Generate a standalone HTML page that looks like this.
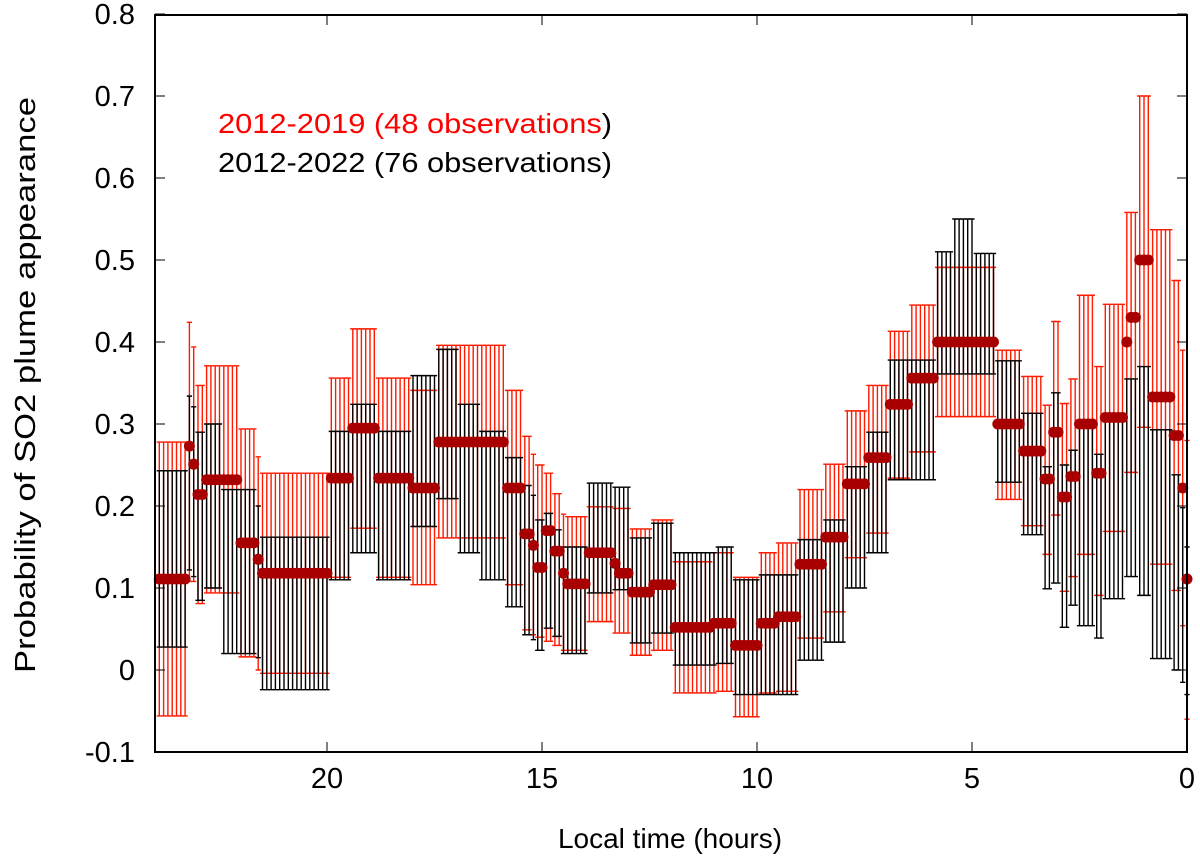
<!DOCTYPE html>
<html><head><meta charset="utf-8"><style>
html,body{margin:0;padding:0;background:#fff;}
svg{display:block;font-family:"Liberation Sans",Arial,sans-serif;}
</style></head><body>
<svg id="chart" width="1200" height="860" viewBox="0 0 1200 860" xmlns="http://www.w3.org/2000/svg">
<g id="red-bars"></g>
<g id="black-bars"></g>
<g id="dots"></g>
<g id="axes"></g>
<text transform="translate(35,385) rotate(-90)" text-anchor="middle" font-size="29" fill="#000" textLength="576" lengthAdjust="spacingAndGlyphs">Probability of SO2 plume appearance</text>
<text x="670" y="848" text-anchor="middle" font-size="28" fill="#000">Local time (hours)</text>
<g>
<text x="218" y="133" font-size="28" textLength="394" lengthAdjust="spacingAndGlyphs"><tspan fill="#ff0000">2012-2019 (48 observations</tspan><tspan fill="#000">)</tspan></text>
<text x="218" y="172" font-size="28" fill="#000" textLength="394" lengthAdjust="spacingAndGlyphs">2012-2022 (76 observations)</text>
</g>
</svg>
<script>
// segment start hours (each segment covers points with hour <= start, until next start)
const segStart = [23.98,23.21,23.12,23.02,22.83,22.44,22.06,21.67,21.58,19.94,19.46,18.88,18.01,17.44,16.95,16.47,15.89,15.41,15.22,15.12,14.93,14.74,14.55,14.45,13.97,13.39,13.20,12.91,12.43,11.95,11.08,10.98,10.50,9.92,9.54,9.06,8.48,7.90,7.42,6.94,6.45,5.88,5.40,4.91,4.43,3.85,3.37,3.18,2.99,2.70,2.51,2.12,1.93,1.45,1.35,1.16,0.87,0.39,0.19,0.0];
const meanVal = [.111,.273,.251,.214,.232,.232,.155,.135,.118,.234,.295,.234,.222,.278,.278,.278,.222,.166,.152,.125,.17,.145,.118,.105,.143,.13,.118,.095,.104,.052,.057,.057,.03,.057,.065,.129,.162,.227,.259,.324,.356,.40,.40,.40,.30,.267,.233,.29,.211,.236,.30,.24,.308,.40,.43,.50,.333,.286,.222,.111];
const redLo = [-.056,.108,.108,.081,.094,.094,.016,.0,-.004,.113,.173,.113,.104,.161,.161,.161,.104,.049,.043,.040,.035,.03,.024,.024,.059,.045,.045,.018,.024,-.028,-.028,-.026,-.057,-.028,-.026,.039,.071,.137,.167,.234,.266,.309,.309,.309,.208,.176,.141,.189,.096,.114,.141,.091,.169,.241,.241,.296,.129,.097,.054,-.06];
const redHi = [.278,.424,.394,.347,.371,.371,.294,.26,.24,.356,.416,.356,.341,.396,.396,.396,.341,.285,.263,.25,.24,.215,.19,.187,.199,.197,.197,.172,.183,.132,.143,.143,.113,.143,.155,.22,.251,.316,.347,.413,.445,.491,.491,.491,.39,.358,.323,.425,.325,.355,.457,.37,.446,.558,.558,.70,.537,.475,.39,.28];
const blkLo = [.028,.122,.114,.085,.10,.02,.02,.015,-.024,.11,.143,.11,.175,.209,.143,.11,.077,.043,.037,.024,.051,.041,.02,.02,.094,.098,.098,.033,.045,.006,.006,.008,-.03,-.03,-.03,.012,.034,.10,.143,.232,.232,.361,.361,.361,.229,.165,.099,.106,.052,.079,.054,.039,.087,.114,.114,.091,.014,0,-.015,-.03];
const blkHi = [.243,.334,.321,.29,.30,.22,.22,.20,.162,.291,.324,.291,.359,.391,.324,.291,.259,.225,.213,.183,.191,.171,.15,.15,.228,.223,.223,.161,.179,.143,.143,.15,.11,.116,.116,.159,.183,.248,.29,.378,.378,.51,.55,.508,.377,.313,.248,.338,.25,.268,.296,.263,.31,.355,.355,.37,.293,.238,.198,.15];
const yTicks = [-0.1,0,0.1,0.2,0.3,0.4,0.5,0.6,0.7,0.8];
const xTicks = [20,15,10,5,0];

const L=155,R=1187,T=15,B=752,HMAX=24;
function xs(h){return R-(h/HMAX)*(R-L);}
function ys(v){return 670-v*820;}
const NS="http://www.w3.org/2000/svg";
function mk(tag,attrs,parent){const e=document.createElementNS(NS,tag);for(const k in attrs)e.setAttribute(k,attrs[k]);parent.appendChild(e);return e;}

const hours=[];
for(let i=239;i>=0;i--)hours.push(i/10);
function segOf(h){let s=0;for(let k=0;k<segStart.length;k++){if(h<=segStart[k]+1e-9)s=k;}return s;}

const rg=document.getElementById('red-bars'),bg=document.getElementById('black-bars'),dg=document.getElementById('dots');
const cap=2.6;
hours.forEach(h=>{
  const s=segOf(h),x=xs(h);
  const r=mk('path',{d:`M${x},${ys(redLo[s])}V${ys(redHi[s])}M${x-cap},${ys(redLo[s])}H${x+cap}M${x-cap},${ys(redHi[s])}H${x+cap}`,stroke:'#ff1a00','stroke-width':1.4,fill:'none'},rg);
  
  
  const b=mk('path',{d:`M${x},${ys(blkLo[s])}V${ys(blkHi[s])}M${x-cap},${ys(blkLo[s])}H${x+cap}M${x-cap},${ys(blkHi[s])}H${x+cap}`,stroke:'#000','stroke-width':1.4,fill:'none'},bg);
  
  
});
hours.forEach(h=>{
  const s=segOf(h);
  const c=mk('circle',{cx:xs(h),cy:ys(meanVal[s]),r:5.5,fill:'#a80000'},dg);
  
  
});

const ag=document.getElementById('axes');
const fr=mk('rect',{x:L,y:T,width:R-L,height:B-T,fill:'none',stroke:'#000','stroke-width':2},ag);


yTicks.forEach(v=>{
  const y=ys(v);
  mk('line',{x1:L,x2:L+10,y1:y,y2:y,stroke:'#000','stroke-width':1},ag);
  mk('line',{x1:R-10,x2:R,y1:y,y2:y,stroke:'#000','stroke-width':1},ag);
  const t=mk('text',{x:135,y:y+10,'text-anchor':'end','font-size':29,fill:'#000'},ag);
  t.textContent=(v===0?'0':v.toFixed(1));
  
  
});
xTicks.forEach(h=>{
  const x=xs(h);
  mk('line',{x1:x,x2:x,y1:B,y2:B-10,stroke:'#000','stroke-width':1},ag);
  mk('line',{x1:x,x2:x,y1:T,y2:T+10,stroke:'#000','stroke-width':1},ag);
  const t=mk('text',{x:x,y:788,'text-anchor':'middle','font-size':29,fill:'#000'},ag);
  t.textContent=String(h);
  
  
});
</script>
</body></html>
